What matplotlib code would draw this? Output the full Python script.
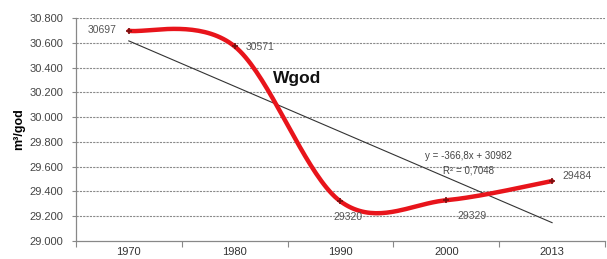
import numpy as np
import matplotlib
matplotlib.use("Agg")
import matplotlib.pyplot as plt
from matplotlib.ticker import FuncFormatter, FixedLocator

years = ["1970", "1980", "1990", "2000", "2013"]
values = [30697, 30571, 29320, 29329, 29484]
value_labels = ["30697", "30571", "29320", "29329", "29484"]
trend_slope = -366.8
trend_intercept = 30982
trend_text = "y = -366,8x + 30982"
r2_text = "R² = 0,7048"
series_title = "Wgod"
y_label = "m³/god"

plt.rcParams['font.family'] = ['Liberation Sans', 'DejaVu Sans']

fig = plt.figure(figsize=(6.07, 2.59), dpi=100)
ax = fig.add_axes([0.125, 0.0695, 0.8717, 0.861])

x = np.arange(len(values), dtype=float)
y = np.array(values, dtype=float)

# Excel-style smoothed line (Catmull-Rom Bezier segments)
def smooth(xs, ys, n=40):
    px = np.concatenate([[xs[0]], xs, [xs[-1]]])
    py = np.concatenate([[ys[0]], ys, [ys[-1]]])
    outx, outy = [], []
    t = np.linspace(0, 1, n)
    for i in range(1, len(px) - 2):
        p0 = np.array([px[i], py[i]])
        p3 = np.array([px[i + 1], py[i + 1]])
        p1 = p0 + (p3 - np.array([px[i - 1], py[i - 1]])) / 6
        p2 = p3 - (np.array([px[i + 2], py[i + 2]]) - p0) / 6
        b = ((1 - t) ** 3)[:, None] * p0 + (3 * (1 - t) ** 2 * t)[:, None] * p1 \
            + (3 * (1 - t) * t ** 2)[:, None] * p2 + (t ** 3)[:, None] * p3
        outx.extend(b[:, 0]); outy.extend(b[:, 1])
    return np.array(outx), np.array(outy)

sx, sy = smooth(x, y)

for v in range(29000, 30801, 200):
    if v == 29000:
        continue
    ax.axhline(v, color='#8a8a8a', lw=0.8, ls=(0, (2, 1)), zorder=1)

# trend line
tx = x + 1
ax.plot(x, trend_slope * tx + trend_intercept, color='#333333', lw=0.8, zorder=2)

ax.plot(sx, sy, color='#e8141b', lw=3.2, zorder=3, solid_capstyle='round')
ax.plot(x, y, ls='none', marker='+', ms=5, mew=1.2, color='#7a1010', zorder=4)

lab_kw = dict(fontsize=7.5, color='#555555', zorder=5)
ax.text(x[0] - 0.12, y[0] + 10, value_labels[0], ha='right', va='center', **lab_kw)
ax.text(x[1] + 0.1, y[1] - 5, value_labels[1], ha='left', va='center', **lab_kw)
ax.text(x[2] + 0.07, y[2] - 130, value_labels[2], ha='center', va='center', **lab_kw)
ax.text(x[3] + 0.24, y[3] - 125, value_labels[3], ha='center', va='center', **lab_kw)
ax.text(x[4] + 0.1, y[4] + 40, value_labels[4], ha='left', va='center', **lab_kw)

ax.text(1.36, 30315, series_title, fontsize=12.5, fontweight='bold', ha='left', va='center', color='#111111')
ax.text(3.21, 29685, trend_text, fontsize=7, ha='center', va='center', color='#444444')
ax.text(3.21, 29573, r2_text, fontsize=7, ha='center', va='center', color='#444444')

ax.set_ylim(29000, 30800)
ax.set_xlim(-0.5, 4.5)
ax.yaxis.set_major_locator(FixedLocator(list(range(29000, 30801, 200))))
ax.yaxis.set_major_formatter(FuncFormatter(lambda v, p: f"{v:,.0f}".replace(',', '.')))
ax.set_xticks(x)
ax.set_xticklabels(years)
ax.set_xticks(np.arange(-0.5, 4.6, 1.0), minor=True)
ax.tick_params(axis='x', which='major', length=0, pad=4.5, labelsize=8, labelcolor='#333333')
ax.tick_params(axis='x', which='minor', length=4, direction='out', color='#888888', width=0.8)
ax.tick_params(axis='y', length=3, direction='out', labelsize=8, labelcolor='#444444', color='#888888', pad=6)
for s in ['top', 'right']:
    ax.spines[s].set_visible(False)
for s in ['left', 'bottom']:
    ax.spines[s].set_color('#888888')
    ax.spines[s].set_linewidth(0.9)

ax.set_ylabel(y_label, fontsize=9, fontweight='bold', labelpad=3)

fig.savefig("out.png", dpi=100)
